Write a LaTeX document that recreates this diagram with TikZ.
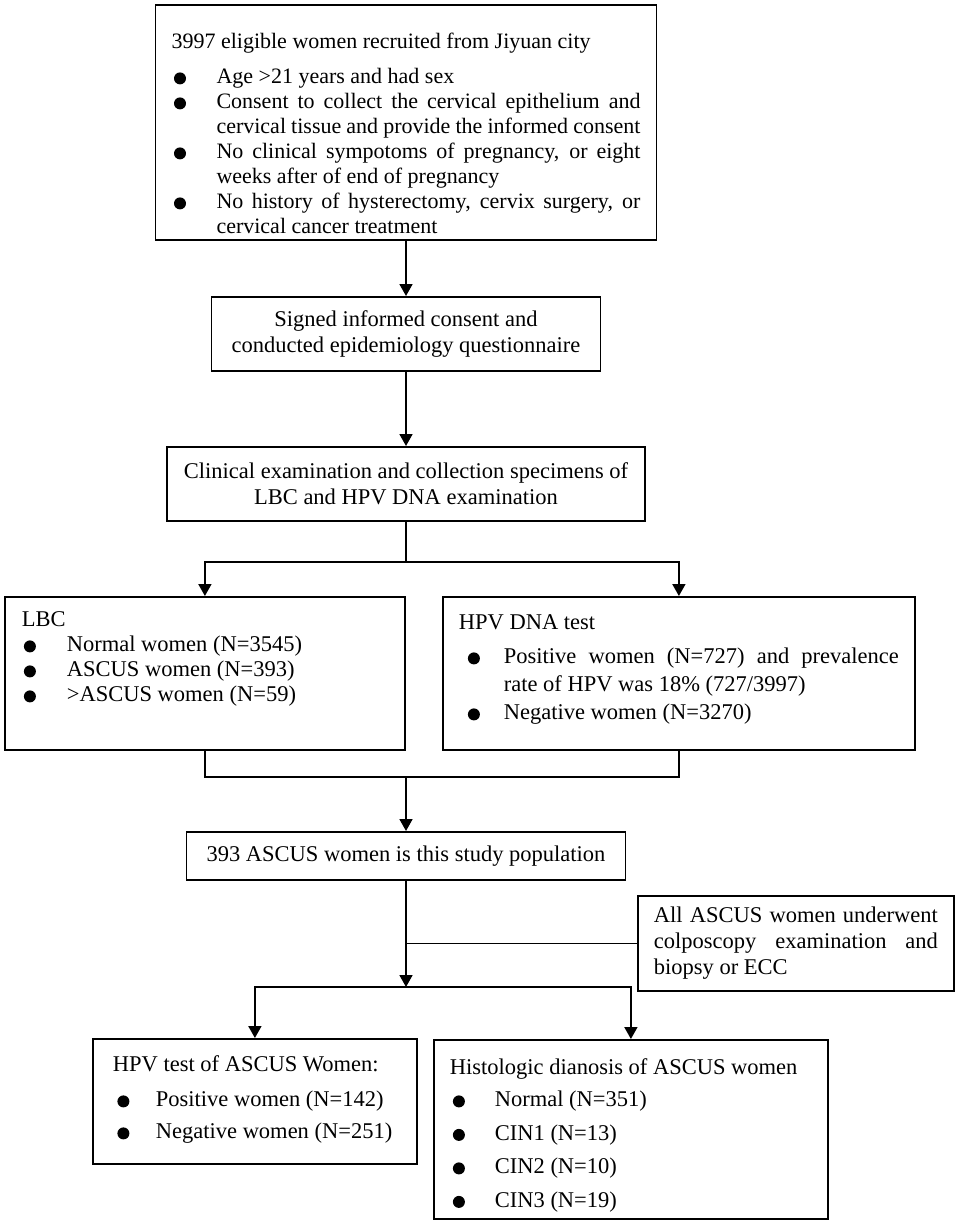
\documentclass[tikz,border=0pt]{standalone}
\usepackage{fontspec}
\setmainfont{Liberation Serif}
\usetikzlibrary{arrows.meta}
\newlength{\bind}
\newlength{\boff}
\newcommand{\bdot}{\tikz[baseline=0pt]\fill[black] (0pt,5.5pt) circle (6pt);}
\newcommand{\itm}[1]{\par\hangindent=\bind\hangafter=1\noindent\makebox[\bind][l]{\hspace*{\boff}\bdot}#1}
\newcommand{\topbox}[3]{\parbox[c][#1][t]{#2}{#3}}

\begin{document}
\begin{tikzpicture}[x=1pt,y=-1pt,
  box/.style={draw,line width=1.8pt,inner ysep=0pt},
  arr/.style={line width=1.8pt,-{Triangle[length=12pt,width=13pt]}},
  line/.style={line width=1.8pt}]
\useasboundingbox (0,0) rectangle (957,1223);
\node[box,anchor=north,inner xsep=16pt,font=\fontsize{22}{25}\selectfont] (recruit) at (406,4)
  {\topbox{235pt}{469pt}{\setlength{\bind}{45pt}\setlength{\boff}{2.5pt}%
  \rule{0pt}{44pt}3997 eligible women recruited from Jiyuan city\par\vspace{10pt}
  \itm{Age >21 years and had sex}
  \itm{Consent to collect the cervical epithelium and\linebreak cervical tissue and provide the informed consent}
  \itm{No clinical sympotoms of pregnancy, or eight\linebreak weeks after of end of pregnancy}
  \itm{No history of hysterectomy, cervix surgery, or\linebreak cervical cancer treatment}}};
\node[box,anchor=north,minimum width=389pt,minimum height=74pt,align=center,font=\fontsize{22.5}{26}\selectfont] (consent) at (406,296)
  {Signed informed consent and\\conducted epidemiology questionnaire};
\node[box,anchor=north,minimum width=478pt,minimum height=74pt,align=center,font=\fontsize{22.5}{26}\selectfont] (clin) at (406,446)
  {Clinical examination and collection specimens of\\LBC and HPV DNA examination};
\node[box,anchor=north west,inner xsep=17pt,font=\fontsize{22.5}{25}\selectfont] (lbc) at (4,596)
  {\topbox{153pt}{366pt}{\setlength{\bind}{45pt}\setlength{\boff}{2pt}%
  \rule{0pt}{30pt}LBC
  \itm{Normal women (N=3545)}
  \itm{ASCUS women (N=393)}
  \itm{>ASCUS women (N=59)}}};
\node[box,anchor=north west,inner xsep=16pt,font=\fontsize{22.5}{28}\selectfont] (hpv) at (442,596)
  {\topbox{153pt}{440pt}{\setlength{\bind}{45pt}\setlength{\boff}{9pt}%
  \rule{0pt}{33pt}HPV DNA test\par\vspace{6pt}
  \itm{Positive women (N=727) and prevalence\linebreak rate of HPV was 18\% (727/3997)}
  \itm{Negative women (N=3270)}}};
\node[box,anchor=north,minimum width=439pt,minimum height=48pt,font=\fontsize{22.5}{26}\selectfont] (pop) at (406,831)
  {393 ASCUS women is this study population};
\node[box,anchor=north west,inner xsep=16pt,minimum height=95pt,font=\fontsize{22.5}{26}\selectfont] (colpo) at (637,895)
  {\parbox{284pt}{All ASCUS women underwent\linebreak colposcopy examination and\linebreak biopsy or ECC}};
\node[box,anchor=north west,inner xsep=20pt,font=\fontsize{22.5}{32}\selectfont] (hpvasc) at (92,1038)
  {\topbox{125pt}{284pt}{\setlength{\bind}{43pt}\setlength{\boff}{4.5pt}%
  \rule{0pt}{33pt}HPV test of ASCUS Women:\par\vspace{3pt}
  \itm{Positive women (N=142)}
  \itm{Negative women (N=251)}}};
\node[box,anchor=north west,inner xsep=16pt,font=\fontsize{22.5}{33.5}\selectfont] (histo) at (433,1039)
  {\topbox{179pt}{362pt}{\setlength{\bind}{45pt}\setlength{\boff}{3pt}%
  \rule{0pt}{35pt}Histologic dianosis of ASCUS women\par\vspace{-1.5pt}
  \itm{Normal (N=351)}
  \itm{CIN1 (N=13)}
  \itm{CIN2 (N=10)}
  \itm{CIN3 (N=19)}}};
\coordinate (split1) at (406,562);
\coordinate (join1) at (406,777);
\coordinate (split2) at (406,987);
\draw[arr] (recruit) -- (consent);
\draw[arr] (consent) -- (clin);
\draw[line] (clin) -- (split1);
\draw[arr] (split1) -| (lbc);
\draw[arr] (split1) -| (hpv);
\draw[line] (lbc) |- (join1);
\draw[line] (hpv) |- (join1);
\draw[arr] (join1) -- (pop);
\draw[arr] (pop) -- (split2);
\draw[line] (colpo) -- (colpo -| pop);
\draw[arr] (split2) -| (hpvasc);
\draw[arr] (split2) -| (histo);
\end{tikzpicture}
\end{document}
